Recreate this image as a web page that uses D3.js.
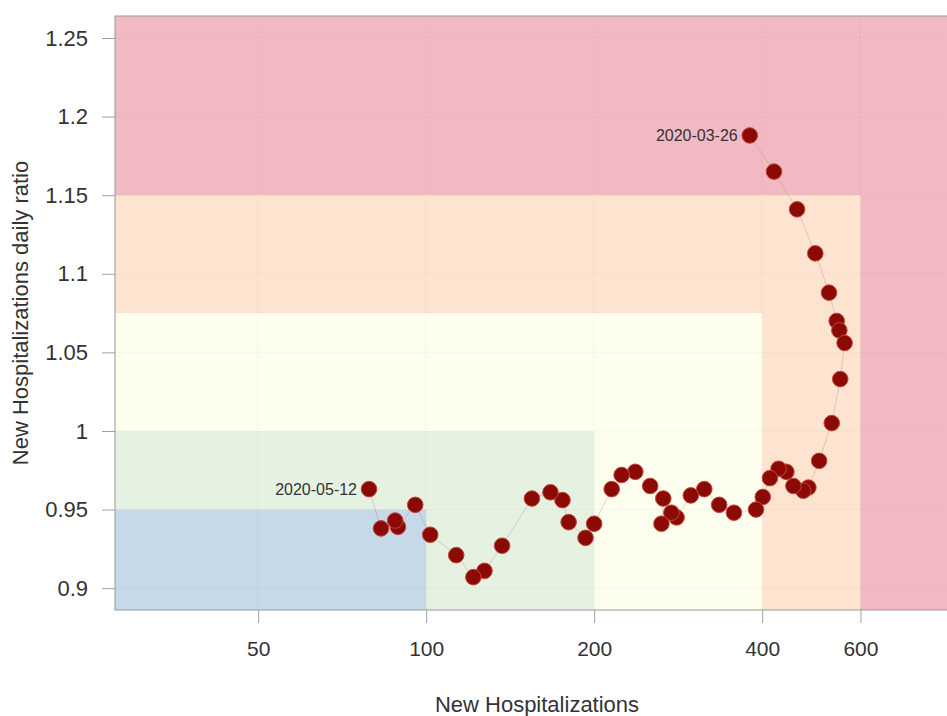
<!DOCTYPE html>
<html>
<head>
<meta charset="utf-8">
<script src="https://cdn.jsdelivr.net/npm/d3@7"></script>
<style>
  body { margin: 0; background: #fff; }
  text { font-family: "Liberation Sans", Arial, sans-serif; }
</style>
</head>
<body>
<div id="chart-area"></div>
<script>
// Data: new hospitalizations vs daily ratio, 2020-03-26 -> 2020-05-12
var hosp = [380, 420, 462, 498, 527, 544, 550, 562, 552, 533, 506, 484, 474, 455, 442, 428,
            413, 401, 390, 356, 335, 315, 298, 281, 275, 264, 266, 252, 237, 224, 215, 200,
            193, 180, 175.5, 167, 154.7, 136.8, 127.2, 121.5, 113.2, 101.7, 95.6, 89, 88, 83, 79];
var ratio = [1.188, 1.165, 1.141, 1.113, 1.088, 1.070, 1.064, 1.056, 1.033, 1.005, 0.981, 0.964,
             0.962, 0.965, 0.974, 0.976, 0.970, 0.958, 0.950, 0.948, 0.953, 0.963, 0.959, 0.945,
             0.948, 0.941, 0.957, 0.965, 0.974, 0.972, 0.963, 0.941, 0.932, 0.942, 0.956, 0.961,
             0.957, 0.927, 0.911, 0.907, 0.921, 0.934, 0.953, 0.939, 0.943, 0.938, 0.963];
var firstDate = "2020-03-26", lastDate = "2020-05-12";

var xTicks = [50, 100, 200, 400, 600];
var yTicks = [0.9, 0.95, 1, 1.05, 1.1, 1.15, 1.2, 1.25];

// zone thresholds (upper x, upper y), drawn outermost first
var zoneX = [Infinity, 600, 400, 200, 100];
var zoneY = [Infinity, 1.15, 1.075, 1.0, 0.95];
var zoneColors = ["#f1bac3", "#fde4d1", "#fefeee", "#e5f2e1", "#c5d9e9"];

var width = 947, height = 716;
var pLeft = 115, pRight = 959, pTop = 16, pBottom = 610;

var svg = d3.select("#chart-area")
    .append("svg")
        .attr("width", width)
        .attr("height", height);

var x = d3.scaleLog()
    .domain([27.7, 901])
    .range([pLeft, pRight]);
var y = d3.scaleLinear()
    .domain([0.8861, 1.264])
    .range([pBottom, pTop]);

// Zones
zoneX.forEach(function(xm, i){
    var x1 = xm === Infinity ? pRight : x(xm);
    var y1 = zoneY[i] === Infinity ? pTop : y(zoneY[i]);
    svg.append("rect")
        .attr("x", pLeft)
        .attr("y", y1)
        .attr("width", x1 - pLeft)
        .attr("height", pBottom - y1)
        .attr("fill", zoneColors[i]);
});

// Grid
svg.append("g").selectAll("line").data(yTicks).enter().append("line")
    .attr("x1", pLeft).attr("x2", pRight)
    .attr("y1", function(d){ return y(d); })
    .attr("y2", function(d){ return y(d); })
    .attr("stroke", "#000").attr("stroke-opacity", 0.05)
    .attr("stroke-dasharray", "2,2");
svg.append("g").selectAll("line").data(xTicks).enter().append("line")
    .attr("y1", pTop).attr("y2", pBottom)
    .attr("x1", function(d){ return x(d); })
    .attr("x2", function(d){ return x(d); })
    .attr("stroke", "#000").attr("stroke-opacity", 0.05)
    .attr("stroke-dasharray", "2,2");

// Frame
svg.append("rect")
    .attr("x", pLeft).attr("y", pTop)
    .attr("width", pRight - pLeft).attr("height", pBottom - pTop)
    .attr("fill", "none")
    .attr("stroke", "#9a9a9a");

// Axes
var xAxisCall = d3.axisBottom(x)
    .tickValues(xTicks)
    .tickFormat(d3.format("d"))
    .tickSize(13)
    .tickPadding(18);
var xg = svg.append("g")
    .attr("transform", "translate(0," + pBottom + ")")
    .call(xAxisCall);

var yAxisCall = d3.axisLeft(y)
    .tickValues(yTicks)
    .tickFormat(function(d){ return +d; })
    .tickSize(13)
    .tickPadding(14);
var yg = svg.append("g")
    .attr("transform", "translate(" + pLeft + ",0)")
    .call(yAxisCall);

[xg, yg].forEach(function(g){
    g.select(".domain").remove();
    g.selectAll(".tick line").attr("stroke", "#a0a0a0");
    g.selectAll(".tick text")
        .attr("fill", "#333")
        .attr("font-size", "21px")
        .attr("font-family", "'Liberation Sans', Arial, sans-serif");
});
yg.selectAll(".tick text").attr("font-size", "22px");

// Labels
svg.append("text")
    .attr("x", (pLeft + pRight) / 2)
    .attr("y", 712)
    .attr("font-size", "22px")
    .attr("fill", "#333")
    .attr("text-anchor", "middle")
    .text("New Hospitalizations");
svg.append("text")
    .attr("transform", "translate(28," + ((pTop + pBottom) / 2) + ") rotate(-90)")
    .attr("font-size", "22px")
    .attr("fill", "#333")
    .attr("text-anchor", "middle")
    .text("New Hospitalizations daily ratio");

// Path + points
var pts = hosp.map(function(h, i){ return [h, ratio[i]]; });

svg.append("path")
    .datum(pts)
    .attr("fill", "none")
    .attr("stroke", "#b08080")
    .attr("stroke-opacity", 0.35)
    .attr("stroke-width", 1)
    .attr("d", d3.line()
        .x(function(d){ return x(d[0]); })
        .y(function(d){ return y(d[1]); }));

svg.append("g").selectAll("circle").data(pts).enter().append("circle")
    .attr("cx", function(d){ return x(d[0]); })
    .attr("cy", function(d){ return y(d[1]); })
    .attr("r", 7.8)
    .attr("fill", "#8b0a05")
    .attr("stroke", "#c0463c")
    .attr("stroke-width", 1);

// Date annotations
[[pts[0], firstDate], [pts[pts.length - 1], lastDate]].forEach(function(a){
    svg.append("text")
        .attr("x", x(a[0][0]) - 12)
        .attr("y", y(a[0][1]))
        .attr("dy", "0.35em")
        .attr("text-anchor", "end")
        .attr("font-size", "16px")
        .attr("fill", "#333")
        .text(a[1]);
});
</script>
</body>
</html>
